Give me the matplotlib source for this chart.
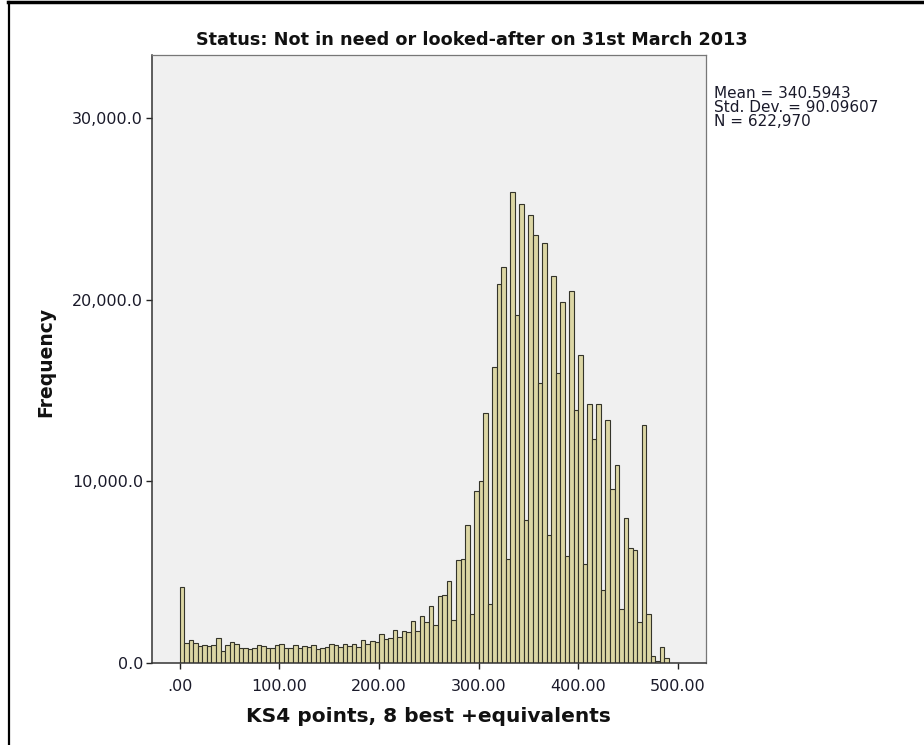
import numpy as np
import matplotlib
matplotlib.use("Agg")
import matplotlib.pyplot as plt
from matplotlib.lines import Line2D
from matplotlib.ticker import FuncFormatter

# KS4 capped points histogram: 110 bins of equal width over 0-500
bin_count = 110
x_max = 500.0
frequency = [
    4190, 1120, 1260, 1100, 950, 1010, 930, 1000, 1360, 660,
    980, 1150, 1070, 810, 810, 750, 850, 970, 910, 840,
    850, 990, 1060, 830, 810, 1000, 830, 920, 900, 980,
    780, 830, 890, 1050, 990, 900, 1060, 930, 1050, 880,
    1280, 1060, 1200, 1180, 1620, 1330, 1370, 1840, 1430, 1780,
    1720, 2330, 1780, 2560, 2260, 3110, 2100, 3690, 3720, 4530,
    2350, 5650, 5720, 7580, 2700, 9490, 10040, 13760, 3270, 16280,
    20830, 21800, 5740, 25910, 19140, 25270, 7850, 24630, 23580, 15430,
    23120, 7070, 21320, 15970, 19840, 5870, 20460, 13950, 16940, 5450,
    14260, 12350, 14260, 4040, 13400, 9580, 10920, 2990, 7980, 6330,
    6240, 2260, 13120, 2720, 370, 90, 860, 280, 0, 0,
]
x_ticks = [0, 100, 200, 300, 400, 500]
y_ticks = [0, 10000, 20000, 30000]
stats_lines = ["Mean = 340.5943", "Std. Dev. = 90.09607", "N = 622,970"]

title = "Status: Not in need or looked-after on 31st March 2013"
x_label = "KS4 points, 8 best +equivalents"
y_label = "Frequency"

W, H = 924, 745
fig = plt.figure(figsize=(W / 100, H / 100), dpi=100)
fig.patch.set_facecolor("white")

# axes box in pixels: left 152, right 706, top 55, bottom 663
ax = fig.add_axes([152 / W, 1 - 663 / H, (706 - 152) / W, (663 - 55) / H])
ax.set_facecolor("#f0f0f0")

edges = np.linspace(0, x_max, bin_count + 1)
width = edges[1] - edges[0]
ax.bar(edges[:-1], frequency, width=width, align="edge",
       facecolor="#dcd6a4", edgecolor="#34342a", linewidth=0.8, zorder=2)

ax.set_xlim(-27.9, 528.2)
ax.set_ylim(0, 33460)

ax.set_xticks(x_ticks)
ax.set_yticks(y_ticks)
ax.xaxis.set_major_formatter(FuncFormatter(lambda v, p: ".00" if v == 0 else "%.2f" % v))
ax.yaxis.set_major_formatter(FuncFormatter(lambda v, p: "{:,.1f}".format(v)))
ax.tick_params(axis="both", direction="out", length=4.5, width=1.0, color="#222222",
               labelsize=11.5, labelcolor="#1a1a2a")
ax.tick_params(axis="x", pad=7)
ax.tick_params(axis="y", pad=2)

for side in ["left", "bottom"]:
    ax.spines[side].set_color("#333333")
    ax.spines[side].set_linewidth(1.1)
for side in ["top", "right"]:
    ax.spines[side].set_color("#777777")
    ax.spines[side].set_linewidth(0.9)

fig.text(472 / W, 1 - 40 / H, title, ha="center", va="center",
         fontsize=12.7, fontweight="bold", color="#111111")
fig.text(428 / W, 1 - 717 / H, x_label, ha="center", va="center",
         fontsize=14.5, fontweight="bold", color="#111111")
fig.text(46 / W, 1 - 362 / H, y_label, ha="center", va="center", rotation=90,
         fontsize=13.5, fontweight="bold", color="#111111")

for k, line in enumerate(stats_lines):
    fig.text(714 / W, 1 - (93 + 14 * k) / H, line, ha="left", va="center",
             fontsize=11, color="#1a1a2a")

# black frame lines along the top and left of the panel
fig.add_artist(Line2D([8 / W, 1], [1 - 2 / H, 1 - 2 / H], transform=fig.transFigure,
                      color="black", linewidth=2.5))
fig.add_artist(Line2D([9 / W, 9 / W], [0, 1 - 2 / H], transform=fig.transFigure,
                      color="black", linewidth=1.6))

fig.savefig("out.png", dpi=100)
